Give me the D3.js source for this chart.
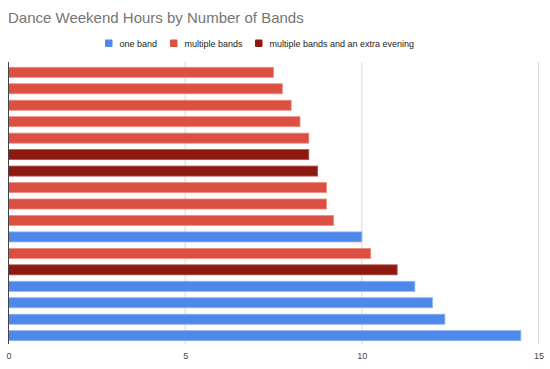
<!DOCTYPE html>
<html>
<head>
<meta charset="utf-8">
<script src="https://cdn.jsdelivr.net/npm/d3@7"></script>
<style>
  body { margin: 0; background: #fff; }
  text { font-family: "Liberation Sans", Arial, sans-serif; }
</style>
</head>
<body>
<div id="chart"></div>
<script>
const width = 550
const height = 369
const margin = { top: 64, bottom: 25, left: 8.5, right: 11.5 }

// bars from top to bottom
const groups = ["multiple", "multiple", "multiple", "multiple", "multiple", "extra", "extra", "multiple", "multiple", "multiple",
    "one", "multiple", "extra", "one", "one", "one", "one"]
const hours = [7.5, 7.75, 8, 8.25, 8.5, 8.5, 8.75, 9, 9, 9.2, 10, 10.25, 11, 11.5, 12, 12.35, 14.5]
const xTicks = [0, 5, 10, 15]

const legendKeys = ["one", "multiple", "extra"]
const legendLabels = ["one band", "multiple bands", "multiple bands and an extra evening"]
const colors = { one: "#4e88eb", multiple: "#db5041", extra: "#8d1a10" }
const strokes = { one: "#8fb3f1", multiple: "#eb8c82", extra: "#b0574f" }

const svg = d3.select("div#chart").append("svg").attr("width", width).attr("height", height)

svg.append("text")
    .attr("x", 8).attr("y", 22.5)
    .attr("font-size", 15).attr("fill", "#757575")
    .text("Dance Weekend Hours by Number of Bands")

const x = d3.scaleLinear().domain([0, 15]).range([margin.left, width - margin.right])
const y = d3.scaleBand().domain(d3.range(hours.length))
    .range([margin.top, height - margin.bottom]).paddingInner(0.39).paddingOuter(0.2)

// grid
svg.append("g").selectAll("line").data(xTicks.slice(1)).join("line")
    .attr("x1", d => x(d)).attr("x2", d => x(d))
    .attr("y1", 62).attr("y2", height - margin.bottom)
    .attr("stroke", "#d9d9d9").attr("stroke-width", 1)

// bars
svg.append("g").selectAll("rect").data(hours).join("rect")
    .attr("x", x(0))
    .attr("y", (d, i) => y(i))
    .attr("width", d => x(d) - x(0))
    .attr("height", y.bandwidth())
    .attr("fill", (d, i) => colors[groups[i]])
    .attr("stroke", (d, i) => strokes[groups[i]])
    .attr("stroke-width", 0.8)

// axis
const xAxis = d3.axisBottom(x).tickValues(xTicks).tickSize(0).tickPadding(9)
const xAxisGroup = svg.append("g").attr("transform", `translate(0, ${height - margin.bottom})`).call(xAxis)
xAxisGroup.select(".domain").remove()
xAxisGroup.selectAll("text").attr("font-size", 9).attr("fill", "#444")
    .attr("font-family", "'Liberation Sans', Arial, sans-serif")

svg.append("line")
    .attr("x1", x(0)).attr("x2", x(0))
    .attr("y1", 62).attr("y2", height - margin.bottom)
    .attr("stroke", "#444").attr("stroke-width", 1)

// legend
const legendX = [105, 170, 255]
const legend = svg.append("g").selectAll("g").data(legendKeys).join("g")
    .attr("transform", (d, i) => `translate(${legendX[i]}, 39.5)`)
legend.append("rect").attr("width", 7.5).attr("height", 7.5).attr("rx", 1)
    .attr("fill", d => colors[d])
legend.append("text").attr("x", 14.5).attr("y", 7)
    .attr("font-size", 9).attr("fill", "#222")
    .text((d, i) => legendLabels[i])
</script>
</body>
</html>
